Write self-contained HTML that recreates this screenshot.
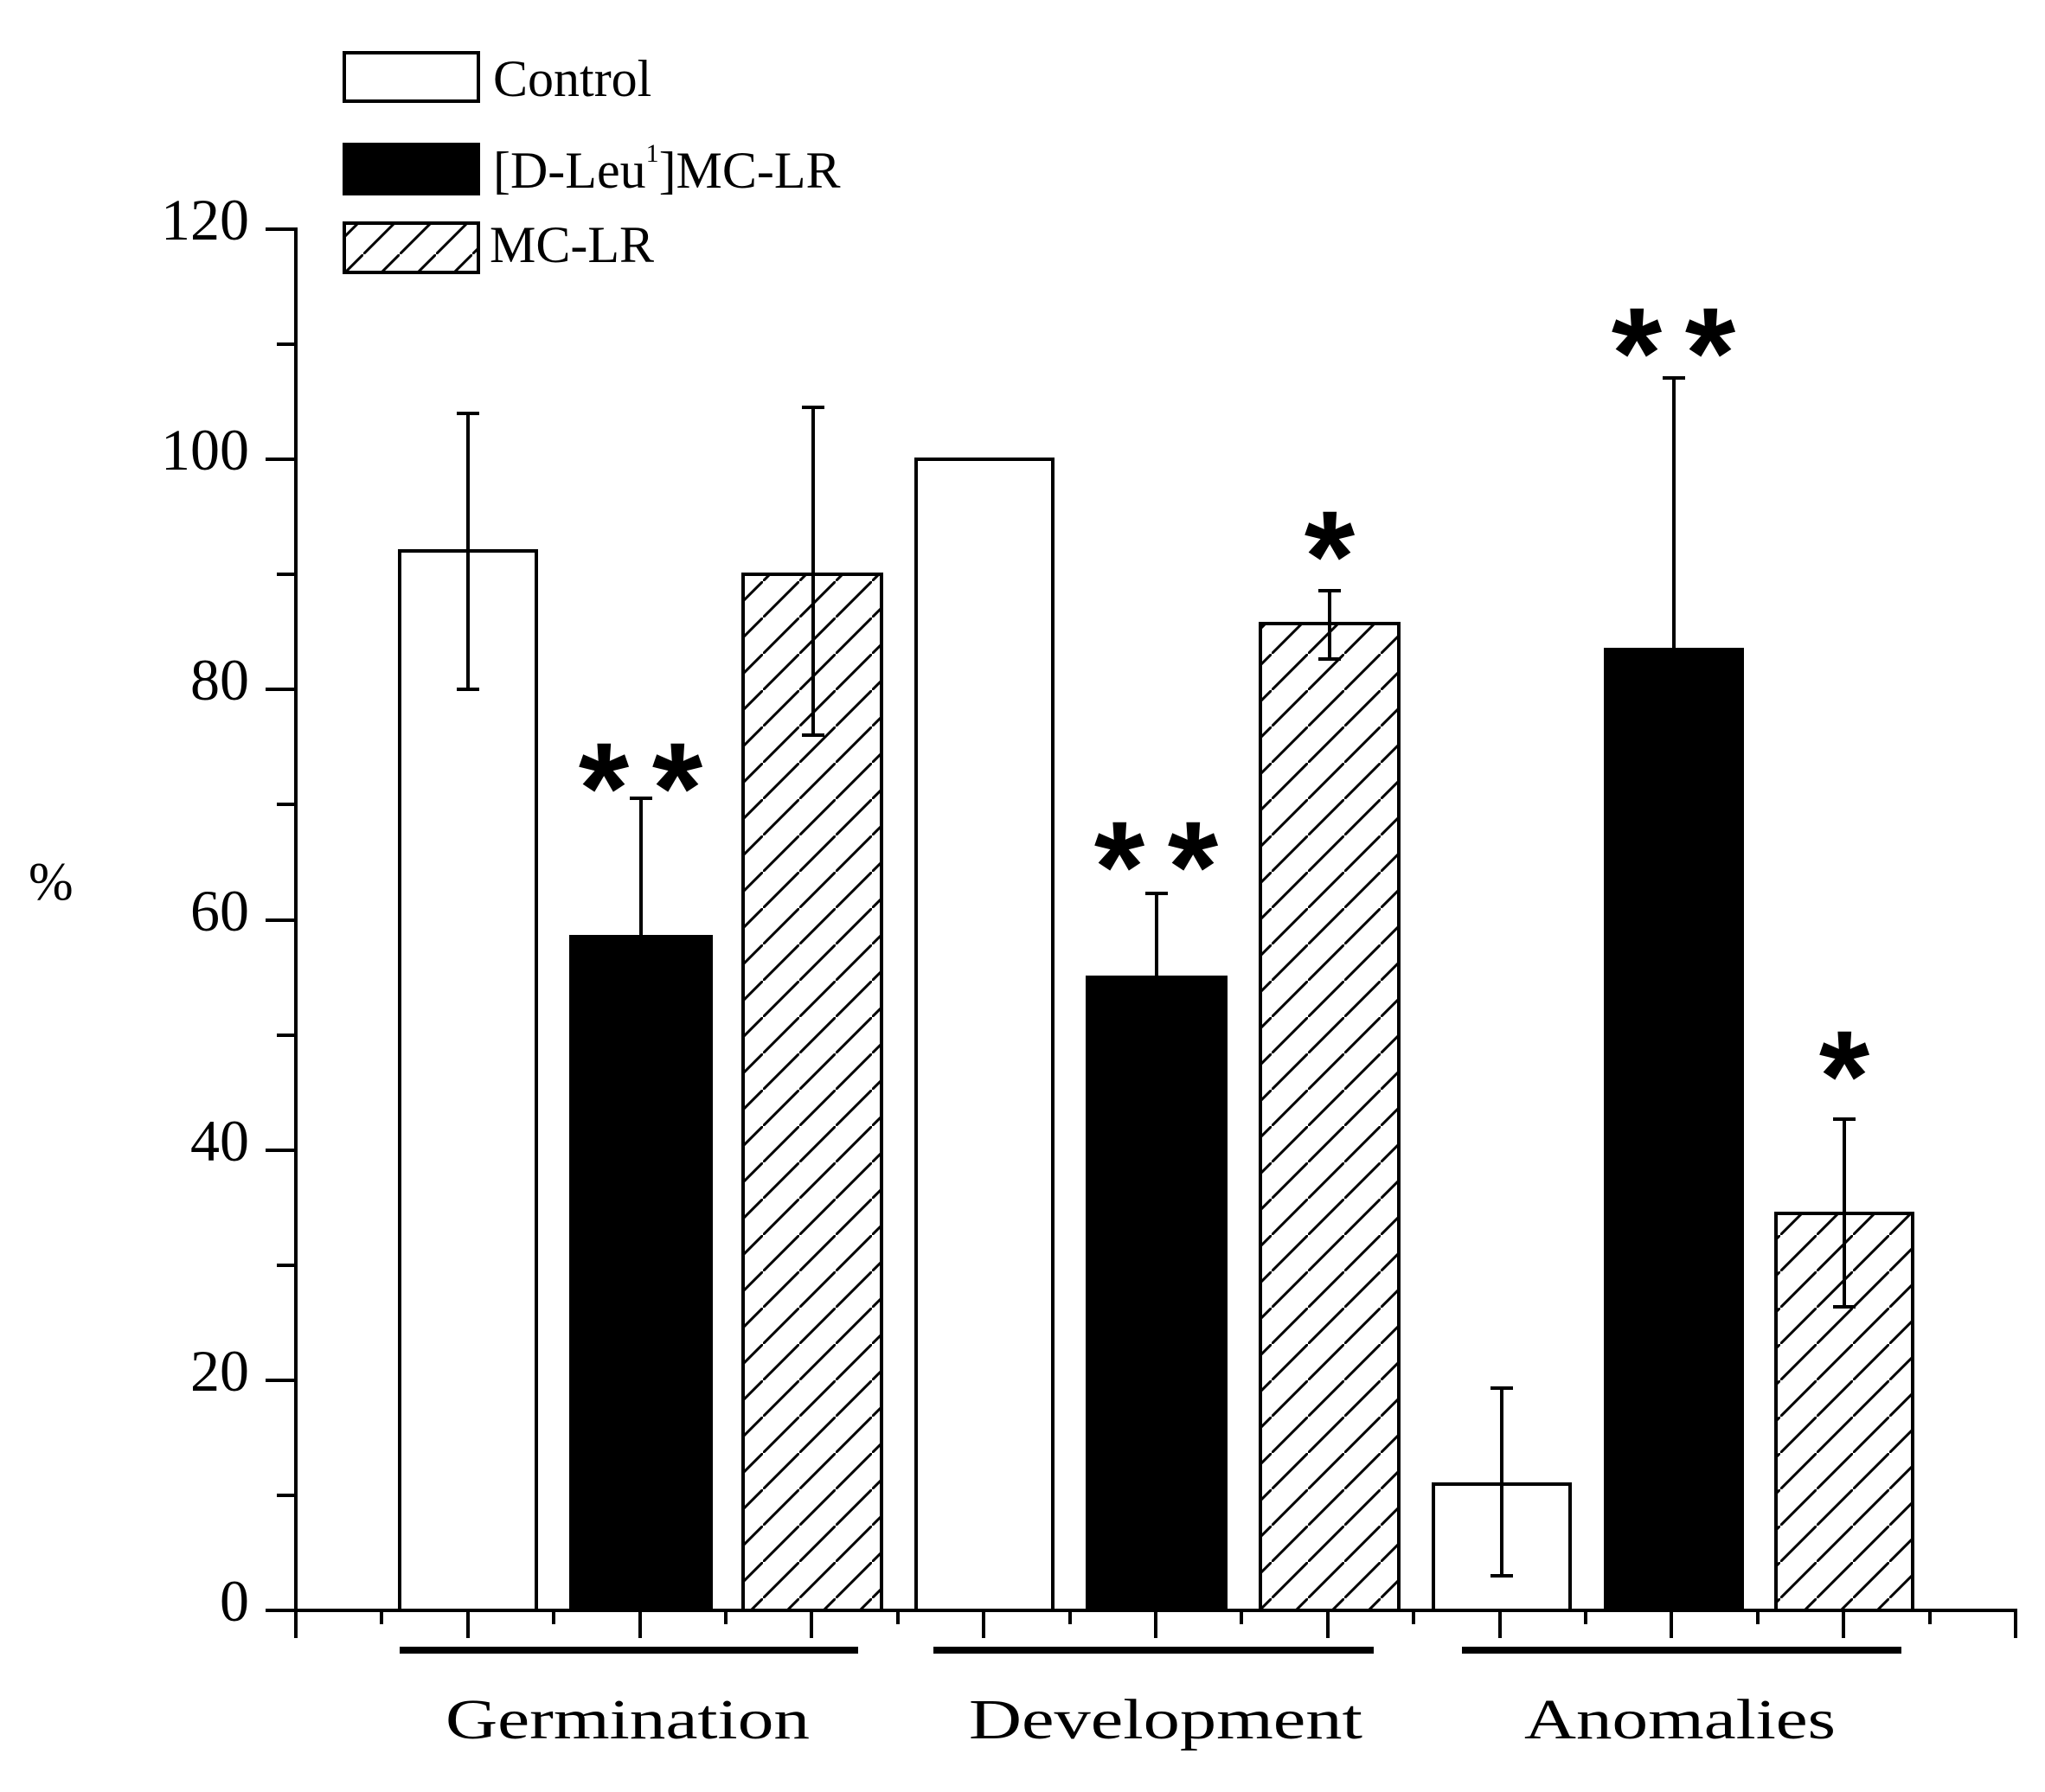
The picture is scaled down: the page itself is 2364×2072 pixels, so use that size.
<!DOCTYPE html>
<html><head><meta charset="utf-8"><style>html,body{margin:0;padding:0;background:#fff}svg{display:block}</style></head>
<body>
<svg width="2364" height="2072" viewBox="0 0 2364 2072" xmlns="http://www.w3.org/2000/svg">
<defs>
<pattern id="h" patternUnits="userSpaceOnUse" width="42" height="42">
<line x1="-6" y1="48" x2="48" y2="-6" stroke="#000" stroke-width="3"/>
</pattern>
</defs>
<g font-family="Liberation Serif, serif" fill="#000">
<line x1="342" y1="263" x2="342" y2="1864" stroke="#000" stroke-width="4"/>
<line x1="340" y1="1862" x2="2332" y2="1862" stroke="#000" stroke-width="4"/>
<g stroke="#000" stroke-width="4">
<line x1="307" y1="265" x2="342" y2="265"/><line x1="320" y1="398" x2="342" y2="398"/>
<line x1="307" y1="531" x2="342" y2="531"/><line x1="320" y1="664" x2="342" y2="664"/>
<line x1="307" y1="797" x2="342" y2="797"/><line x1="320" y1="930" x2="342" y2="930"/>
<line x1="307" y1="1064" x2="342" y2="1064"/><line x1="320" y1="1197" x2="342" y2="1197"/>
<line x1="307" y1="1330" x2="342" y2="1330"/><line x1="320" y1="1463" x2="342" y2="1463"/>
<line x1="307" y1="1596" x2="342" y2="1596"/><line x1="320" y1="1729" x2="342" y2="1729"/>
<line x1="307" y1="1862" x2="342" y2="1862"/>
<line x1="342" y1="1862" x2="342" y2="1894"/>
<line x1="441" y1="1862" x2="441" y2="1878"/><line x1="541" y1="1862" x2="541" y2="1894"/>
<line x1="640" y1="1862" x2="640" y2="1878"/><line x1="740" y1="1862" x2="740" y2="1894"/>
<line x1="839" y1="1862" x2="839" y2="1878"/><line x1="938" y1="1862" x2="938" y2="1894"/>
<line x1="1038" y1="1862" x2="1038" y2="1878"/><line x1="1137" y1="1862" x2="1137" y2="1894"/>
<line x1="1237" y1="1862" x2="1237" y2="1878"/><line x1="1336" y1="1862" x2="1336" y2="1894"/>
<line x1="1435" y1="1862" x2="1435" y2="1878"/><line x1="1535" y1="1862" x2="1535" y2="1894"/>
<line x1="1634" y1="1862" x2="1634" y2="1878"/><line x1="1734" y1="1862" x2="1734" y2="1894"/>
<line x1="1833" y1="1862" x2="1833" y2="1878"/><line x1="1932" y1="1862" x2="1932" y2="1894"/>
<line x1="2032" y1="1862" x2="2032" y2="1878"/><line x1="2131" y1="1862" x2="2131" y2="1894"/>
<line x1="2231" y1="1862" x2="2231" y2="1878"/><line x1="2330" y1="1862" x2="2330" y2="1894"/>
</g>
<g font-size="68" text-anchor="end">
<text x="288" y="277">120</text><text x="288" y="543">100</text><text x="288" y="809">80</text>
<text x="288" y="1076">60</text><text x="288" y="1342">40</text><text x="288" y="1608">20</text><text x="288" y="1874">0</text>
</g>
<text x="33" y="1040" font-size="62">%</text>
<g stroke="#000" stroke-width="4">
<rect x="462" y="637" width="158" height="1225" fill="#fff"/>
<rect x="660" y="1083" width="162" height="779" fill="#000"/>
<rect x="859" y="664" width="160" height="1198" fill="url(#h)"/>
<rect x="1059" y="531" width="158" height="1331" fill="#fff"/>
<rect x="1257" y="1130" width="160" height="732" fill="#000"/>
<rect x="1457" y="721" width="160" height="1141" fill="url(#h)"/>
<rect x="1657" y="1716" width="158" height="146" fill="#fff"/>
<rect x="1856" y="751" width="158" height="1111" fill="#000"/>
<rect x="2053" y="1403" width="158" height="459" fill="url(#h)"/>
</g>
<g stroke="#000" stroke-width="4" fill="none">
<path d="M541 478V797M528 478H554M528 797H554"/>
<path d="M741 923V1083M728 923H754"/>
<path d="M940 471V850M927 471H953M927 850H953"/>
<path d="M1337 1033V1130M1324 1033H1350"/>
<path d="M1537 683V762M1524 683H1550M1524 762H1550"/>
<path d="M1736 1605V1822M1723 1605H1749M1723 1822H1749"/>
<path d="M1935 437V751M1922 437H1948"/>
<path d="M2132 1294V1511M2119 1294H2145M2119 1511H2145"/>
</g>
<g font-family="Liberation Sans, sans-serif" font-size="150" font-weight="bold" text-anchor="middle">
<text x="698" y="963">*</text><text x="783" y="963">*</text>
<text x="1294" y="1054">*</text><text x="1379" y="1054">*</text>
<text x="1537" y="695">*</text>
<text x="1892" y="460">*</text><text x="1977" y="460">*</text>
<text x="2132" y="1296">*</text>
</g>
<g stroke="#000" stroke-width="8">
<line x1="462" y1="1908" x2="992" y2="1908"/>
<line x1="1079" y1="1908" x2="1588" y2="1908"/>
<line x1="1690" y1="1908" x2="2198" y2="1908"/>
</g>
<g font-size="66">
<text x="515" y="2010" textLength="421" lengthAdjust="spacingAndGlyphs">Germination</text>
<text x="1120" y="2010" textLength="455" lengthAdjust="spacingAndGlyphs">Development</text>
<text x="1762" y="2010" textLength="360" lengthAdjust="spacingAndGlyphs">Anomalies</text>
</g>
<g stroke="#000" stroke-width="4">
<rect x="398" y="61" width="155" height="56" fill="#fff"/>
<rect x="398" y="167" width="155" height="57" fill="#000"/>
<rect x="398" y="258" width="155" height="57" fill="url(#h)"/>
</g>
<g font-size="60">
<text x="570" y="111">Control</text>
<text x="570" y="217">[D-Leu<tspan font-size="30" dy="-30">1</tspan><tspan dy="30">]MC-LR</tspan></text>
<text x="566" y="303">MC-LR</text>
</g>
</g>
</svg>
</body></html>
